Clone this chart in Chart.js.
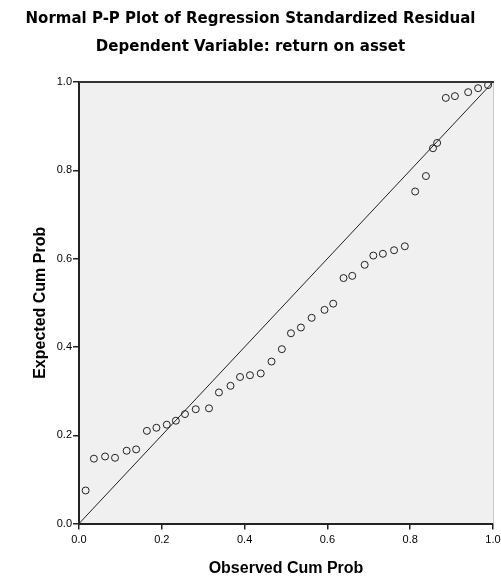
<!DOCTYPE html>
<html>
<head>
<meta charset="utf-8">
<script src="https://cdn.jsdelivr.net/npm/chart.js@4"></script>
<style>
  html, body { margin: 0; padding: 0; background: #fff; }
  #wrap { width: 501px; height: 579px; }
</style>
</head>
<body>
<div id="wrap"><canvas id="pp-plot" width="501" height="579"></canvas></div>
<script>
// observed cumulative probability (x) and expected cumulative probability (y)
const observed = [0.016, 0.036, 0.063, 0.087, 0.115, 0.138, 0.164, 0.187, 0.212, 0.234,
  0.256, 0.282, 0.314, 0.338, 0.366, 0.389, 0.413, 0.439, 0.465, 0.490,
  0.512, 0.536, 0.562, 0.593, 0.614, 0.639, 0.660, 0.690, 0.711, 0.734,
  0.761, 0.787, 0.812, 0.838, 0.855, 0.865, 0.886, 0.908, 0.940, 0.964, 0.988];
const expected = [0.075, 0.147, 0.152, 0.149, 0.165, 0.168, 0.210, 0.217, 0.224, 0.233,
  0.248, 0.259, 0.261, 0.297, 0.312, 0.332, 0.336, 0.340, 0.367, 0.395,
  0.431, 0.444, 0.466, 0.484, 0.498, 0.556, 0.561, 0.586, 0.607, 0.611,
  0.619, 0.628, 0.752, 0.787, 0.850, 0.862, 0.964, 0.968, 0.977, 0.986, 0.993];
const refLine = [0, 1];
const tickValues = [0, 0.2, 0.4, 0.6, 0.8, 1.0];

const points = observed.map((x, i) => ({ x: x, y: expected[i] }));
const diag = refLine.map(v => ({ x: v, y: v }));

// plot panel background plus top/right frame
const panelPlugin = {
  id: 'panel',
  beforeDraw(chart) {
    const { ctx, chartArea: a } = chart;
    ctx.save();
    ctx.fillStyle = '#f0f0f0';
    ctx.fillRect(a.left, a.top, a.right - a.left, a.bottom - a.top);
    ctx.restore();
  },
  afterDraw(chart) {
    const { ctx, chartArea: a } = chart;
    ctx.save();
    ctx.strokeStyle = '#c8c8c8';
    ctx.lineWidth = 1;
    ctx.beginPath();
    ctx.moveTo(a.right + 0.5, a.top);
    ctx.lineTo(a.right + 0.5, a.bottom);
    ctx.stroke();
    ctx.strokeStyle = '#333';
    ctx.lineWidth = 2;
    ctx.beginPath();
    ctx.moveTo(a.left, a.top);
    ctx.lineTo(a.right + 1, a.top);
    ctx.stroke();
    ctx.restore();
  }
};

const sans = "'Liberation Sans', Arial, sans-serif";
const wide = "'DejaVu Sans', Verdana, sans-serif";
const tickFont = { family: sans, size: 11 };

new Chart(document.getElementById('pp-plot'), {
  type: 'scatter',
  data: {
    datasets: [{
      label: 'Observed',
      data: points,
      pointStyle: 'circle',
      pointRadius: 3.5,
      borderWidth: 1,
      borderColor: '#222',
      backgroundColor: 'rgba(0,0,0,0)'
    }, {
      type: 'line',
      label: 'Reference',
      data: diag,
      borderColor: '#222',
      borderWidth: 1,
      pointRadius: 0,
      fill: false
    }]
  },
  options: {
    responsive: false,
    animation: false,
    layout: { padding: { left: 0, right: 0, top: 0, bottom: 0 } },
    plugins: {
      legend: { display: false },
      tooltip: { enabled: false },
      title: {
        display: true,
        text: 'Normal P-P Plot of Regression Standardized Residual',
        color: '#000',
        font: { family: wide, size: 15, weight: 'bold' },
        padding: { top: 10, bottom: 0 }
      },
      subtitle: {
        display: true,
        text: 'Dependent Variable: return on asset',
        color: '#000',
        font: { family: wide, size: 15, weight: 'bold' },
        padding: { top: 10, bottom: 26 }
      }
    },
    scales: {
      x: {
        type: 'linear',
        min: 0,
        max: 1,
        afterBuildTicks: s => { s.ticks = tickValues.map(v => ({ value: v })); },
        afterFit: s => { s.paddingRight = 8; },
        border: { color: '#222', width: 2 },
        grid: { drawOnChartArea: false, drawTicks: true, tickLength: 6, color: '#222', lineWidth: 1.5 },
        ticks: { color: '#000', font: tickFont, padding: 4, maxRotation: 0,
          callback: v => v.toFixed(1) },
        title: { display: true, text: 'Observed Cum Prob', color: '#000',
          font: { family: sans, size: 16, weight: 'bold' },
          padding: { top: 8, bottom: 1 } }
      },
      y: {
        type: 'linear',
        min: 0,
        max: 1,
        afterBuildTicks: s => { s.ticks = tickValues.map(v => ({ value: v })); },
        afterFit: s => { s.width = 79; },
        border: { color: '#222', width: 2 },
        grid: { drawOnChartArea: false, drawTicks: true, tickLength: 6, color: '#222', lineWidth: 1.5 },
        ticks: { color: '#000', font: tickFont, padding: 1,
          callback: v => v.toFixed(1) },
        title: { display: true, text: 'Expected Cum Prob', color: '#000',
          font: { family: sans, size: 16, weight: 'bold' },
          padding: { top: 31, bottom: 0 } }
      }
    }
  },
  plugins: [panelPlugin]
});
</script>
</body>
</html>
